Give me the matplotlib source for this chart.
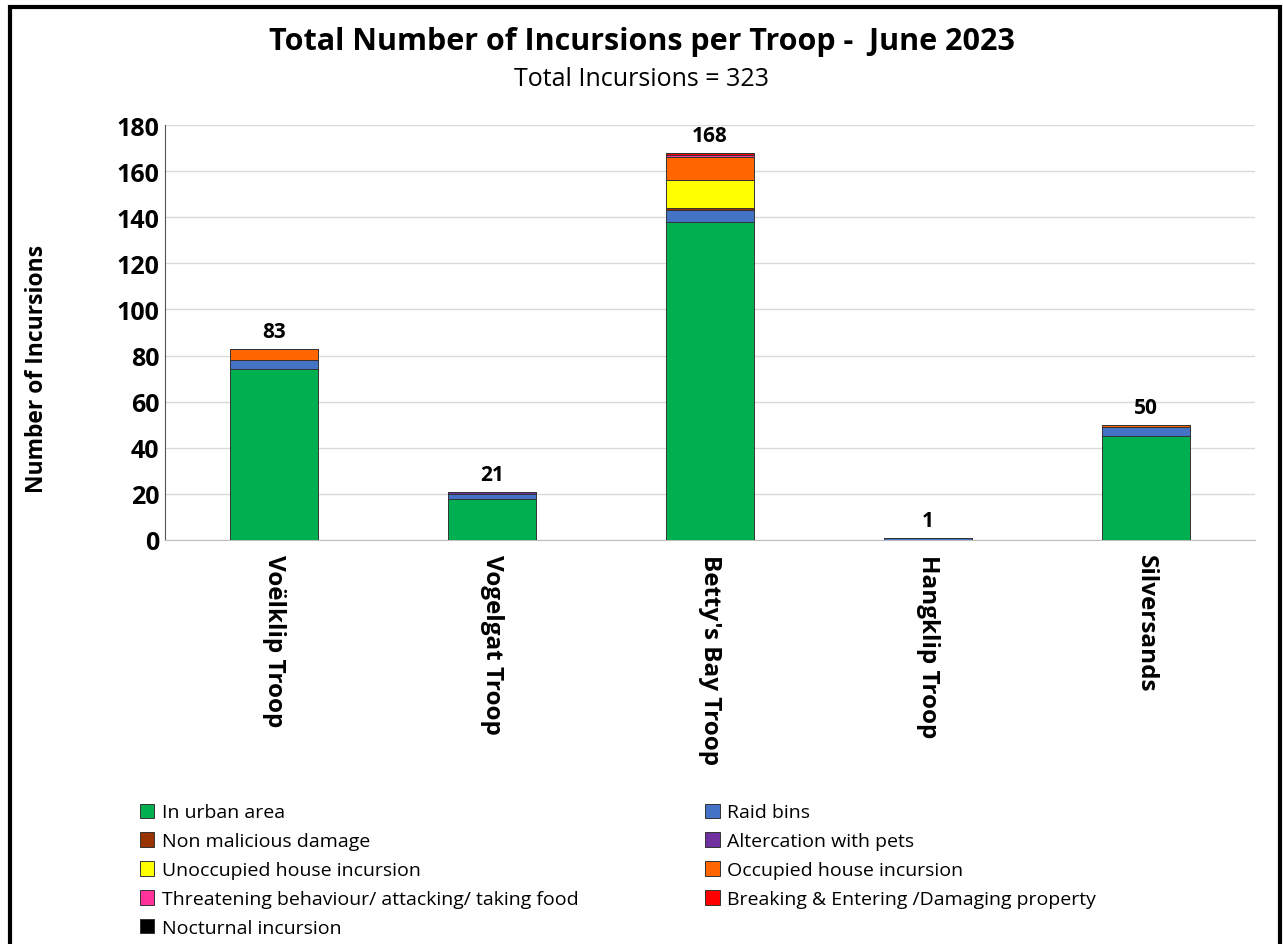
import numpy as np
from matplotlib import pyplot as plt
from matplotlib import rcParams
from matplotlib.patches import Rectangle

rcParams["font.family"] = ["Open Sans", "DejaVu Sans"]

troops = ["Voëlklip Troop", "Vogelgat Troop", "Betty's Bay Troop", "Hangklip Troop", "Silversands"]
categories = [
    "In urban area",
    "Raid bins",
    "Non malicious damage",
    "Altercation with pets",
    "Unoccupied house incursion",
    "Occupied house incursion",
    "Threatening behaviour/ attacking/ taking food",
    "Breaking & Entering /Damaging property",
    "Nocturnal incursion",
]
colors = ["#00B050", "#4472C4", "#993300", "#7030A0", "#FFFF00",
          "#FF6600", "#FF3399", "#FF0000", "#000000"]

# one list per category, one value per troop
in_urban = [74, 18, 138, 0, 45]
raid_bins = [4, 2, 5, 1, 4]
non_malicious = [0, 0, 1, 0, 0]
altercation_pets = [0, 1, 0, 0, 0]
unoccupied_house = [0, 0, 12, 0, 0]
occupied_house = [5, 0, 10, 0, 1]
threatening = [0, 0, 1, 0, 0]
breaking_entering = [0, 0, 1, 0, 0]
nocturnal = [0, 0, 0, 0, 0]

values = np.array([in_urban, raid_bins, non_malicious, altercation_pets,
                   unoccupied_house, occupied_house, threatening,
                   breaking_entering, nocturnal], dtype=float)
totals = values.sum(axis=0)

fig = plt.figure(figsize=(12.83, 9.45), dpi=100)
ax = fig.add_axes([165 / 1283, 1 - 541 / 945, 1090 / 1283, 415 / 945])

x = np.arange(len(troops))
bottom = np.zeros(len(troops))
handles = []
for vals, col, lab in zip(values, colors, categories):
    h = ax.bar(x, vals, 0.4, bottom=bottom, color=col, edgecolor="#333333",
               linewidth=0.7, label=lab, zorder=3)
    handles.append(h)
    bottom += vals

for xi, t in zip(x, totals):
    ax.text(xi, t + 3, f"{int(t)}", ha="center", va="bottom",
            fontsize=15, fontweight="bold")

ax.set_xlim(-0.5, len(troops) - 0.5)
ax.set_ylim(0, 180)
ax.set_yticks(np.arange(0, 181, 20))
ax.grid(axis="y", color="#d9d9d9", linewidth=1, zorder=0)
ax.tick_params(axis="both", length=0)
ax.tick_params(axis="y", labelsize=18, pad=4)
for lbl in ax.get_yticklabels():
    lbl.set_fontweight("bold")
ax.set_xticks(x)
ax.set_xticklabels(troops, rotation=-90, fontsize=17.5, fontweight="bold",
                   va="top", ha="center")
ax.tick_params(axis="x", pad=10)
for s in ["top", "right"]:
    ax.spines[s].set_visible(False)
ax.spines["left"].set_color("#555555")
ax.spines["bottom"].set_color("#bfbfbf")
ax.set_ylabel("Number of Incursions", fontsize=16.5, fontweight="bold")
ax.yaxis.set_label_coords(-0.106, 0.414)

fig.text(0.5, 1 - 42 / 945, "Total Number of Incursions per Troop -  June 2023",
         ha="center", va="center", fontsize=22, fontweight="bold")
fig.text(0.5, 1 - 80 / 945, "Total Incursions = 323", ha="center", va="center",
         fontsize=18)

order = [0, 2, 4, 6, 8, 1, 3, 5, 7]
fig.legend([handles[i] for i in order], [categories[i] for i in order],
           ncol=2, loc="upper left", bbox_to_anchor=(122 / 1283, 1 - 787 / 945),
           frameon=False, fontsize=14, handlelength=0.75, handleheight=0.75,
           handletextpad=0.4, labelspacing=0.56, columnspacing=6.5)

fig.patches.append(Rectangle((10 / 1283, -0.01), 1270 / 1283, 1 - 8 / 945 + 0.01,
                             transform=fig.transFigure, fill=False,
                             edgecolor="black", linewidth=3))

plt.savefig("out.png", dpi=100)
